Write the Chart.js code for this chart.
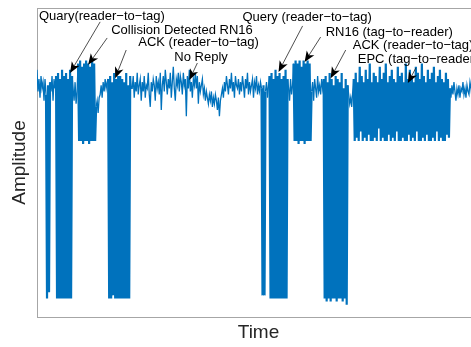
<!DOCTYPE html>
<html>
<head>
<meta charset="utf-8">
<script src="https://cdn.jsdelivr.net/npm/chart.js@4"></script>
<style>
  html, body { margin: 0; padding: 0; overflow: hidden; background: #fff; }
  #wrap { width: 480px; height: 347px; }
</style>
</head>
<body>
<div id="wrap"><canvas id="signalChart"></canvas></div>
<script>
// Amplitude trace, one sample per time step
const leadNoise = [80, 73, 77, 71, 78, 74, 76, 70, 77];
const queryPilot = [72, 6, 75, 8, 76];
const gapA = [73, 78, 70, 77, 74];
const queryBurst = [78, 6, 79, 6, 77, 6, 80, 6, 78, 6, 79, 6, 77, 6, 80, 6, 78];
const gapB = [74, 70, 76, 69, 73];
const collisionRn16 = [82, 57, 83, 57, 81, 56, 82, 57, 83, 57, 82, 56, 81, 57, 83, 57, 82, 57];
const gapC = [68, 70, 66, 71, 72, 75, 71, 76, 73, 77, 74, 76];
const ackBurst = [77, 6, 78, 6, 76, 7, 79, 6, 77, 6, 78, 6, 78, 6, 77, 6, 76, 6, 79, 6, 75, 6, 78, 74];
const noReply = [
  74, 78, 71, 76, 73, 79, 72, 75, 77, 70,
  76, 73, 78, 71, 75, 74, 79, 72, 68, 76,
  73, 77, 75, 70, 78, 74, 76, 72, 79, 67,
  75, 78, 73, 80, 76, 72, 77, 74, 79, 71,
  76, 81, 74, 70, 77, 75, 79, 73, 78, 76,
  72, 79, 75, 77, 65, 78, 74, 80, 73, 76,
  71, 77, 75, 79, 74, 78, 69, 76, 73, 75,
  77, 72, 74, 70, 73, 71, 69, 72, 70, 73,
  68, 71, 69, 72, 70, 67, 71, 65, 70, 72,
  74, 71, 76, 73, 78, 75, 72, 77, 74, 79,
  73, 76, 71, 78, 75, 74, 77, 72, 76, 73,
  78, 75, 71, 77, 74, 79, 72, 76, 73, 75,
  77, 71, 76, 74, 78, 72, 75, 73, 76
];
const queryPilot2 = [74, 7, 75, 7, 73];
const gapD = [76, 71, 75];
const queryBurst2 = [78, 6, 79, 6, 77, 6, 80, 6, 78, 6, 79, 6, 77, 6, 78, 6, 80, 6, 77];
const gapE = [74, 70, 77, 72, 75];
const tagRn16 = [82, 57, 83, 57, 82, 56, 83, 57, 81, 57, 83, 56, 82, 57, 83, 57, 82, 57];
const gapF = [73, 76, 70, 77, 74, 71, 78, 73, 75, 72, 77, 74];
const ackBurst2 = [77, 6, 78, 5, 76, 6, 79, 5, 77, 6, 75, 6, 78, 5, 77, 6, 76, 6, 79, 5, 74, 6, 77, 4, 75];
const gapG = [72, 69, 71, 68, 73];
const epcBurst = [
  77, 57, 79, 58, 76, 57, 81, 60, 78, 57, 76, 58, 80, 57, 77, 59,
  82, 57, 76, 57, 79, 58, 78, 57, 76, 61, 81, 57, 77, 58, 79, 57,
  82, 57, 76, 59, 78, 57, 80, 58, 77, 57, 76, 60, 81, 57, 78, 57,
  79, 58, 76, 57, 82, 57, 77, 59, 80, 57, 78, 58, 76, 57, 81, 60,
  79, 57, 77, 57, 82, 58, 78, 57, 76, 59, 80, 57, 77, 57, 79, 58,
  81, 57, 76, 60, 78, 57, 80, 58, 77, 57, 76, 57, 79, 59, 77, 58
];
const tailNoise = [74, 71, 75, 72, 76, 73, 70, 74, 72, 75, 71, 74, 73, 76, 72, 74, 71, 75, 73, 72, 76, 74, 71, 75, 73, 74, 72, 75, 73, 74, 72];

const amplitude = [].concat(
  leadNoise, queryPilot, gapA, queryBurst, gapB, collisionRn16, gapC, ackBurst,
  noReply, queryPilot2, gapD, queryBurst2, gapE, tagRn16, gapF, ackBurst2, gapG,
  epcBurst, tailNoise
);
const time = amplitude.map((_, i) => i);

// Annotation labels: text anchor, arrow tail and arrow tip, in time / amplitude units
const notes = [
  { text: "Quary(reader\u2212to\u2212tag)", at: [2, 97.4], from: [63, 95.5], to: [33, 79] },
  { text: "Collision Detected RN16", at: [74, 92.6], from: [70, 90.3], to: [51, 81.6] },
  { text: "ACK (reader\u2212to\u2212tag)", at: [101, 88.7], from: [89, 86.4], to: [78, 77.3] },
  { text: "No Reply", at: [137, 84.1], from: [160, 82.2], to: [152, 76.7] },
  { text: "Query (reader\u2212to\u2212tag)", at: [205, 97.1], from: [265, 94.2], to: [241, 79.3] },
  { text: "RN16 (tag\u2212to\u2212reader)", at: [288, 92.2], from: [283, 90.6], to: [267, 82.5] },
  { text: "ACK (reader\u2212to\u2212tag)", at: [315, 88.0], from: [308, 86.4], to: [293, 77.3] },
  { text: "EPC (tag\u2212to\u2212reader)", at: [320, 83.2], from: [378, 80.6], to: [370, 75.7] }
];

const FONT = "'Liberation Sans', Arial, Helvetica, sans-serif";
Chart.defaults.font.family = FONT;

const framePlugin = {
  id: "frame",
  afterDraw(chart) {
    const { ctx, chartArea } = chart;
    ctx.save();
    ctx.strokeStyle = "#a6a6a6";
    ctx.lineWidth = 1;
    ctx.beginPath();
    ctx.moveTo(chartArea.left, Math.round(chartArea.top) + 0.5);
    ctx.lineTo(chartArea.right, Math.round(chartArea.top) + 0.5);
    ctx.stroke();
    ctx.restore();
  }
};

const notesPlugin = {
  id: "notes",
  afterDatasetsDraw(chart) {
    const { ctx, scales } = chart;
    const px = p => [scales.x.getPixelForValue(p[0]), scales.y.getPixelForValue(p[1])];
    ctx.save();
    ctx.font = "13px " + FONT;
    ctx.textAlign = "left";
    ctx.textBaseline = "middle";
    notes.forEach(n => {
      const [tx, ty] = px(n.at);
      ctx.fillStyle = "#000";
      ctx.fillText(n.text, tx, ty);
      const [x0, y0] = px(n.from);
      const [x1, y1] = px(n.to);
      const ang = Math.atan2(y1 - y0, x1 - x0);
      const len = 11, half = 4.5, notch = 3;
      ctx.strokeStyle = "#222";
      ctx.lineWidth = 0.8;
      ctx.beginPath();
      ctx.moveTo(x0, y0);
      ctx.lineTo(x1 - Math.cos(ang) * (len - notch), y1 - Math.sin(ang) * (len - notch));
      ctx.stroke();
      ctx.save();
      ctx.translate(x1, y1);
      ctx.rotate(ang);
      ctx.fillStyle = "#000";
      ctx.beginPath();
      ctx.moveTo(0, 0);
      ctx.lineTo(-len, -half);
      ctx.lineTo(-len + notch, 0);
      ctx.lineTo(-len, half);
      ctx.closePath();
      ctx.fill();
      ctx.restore();
    });
    ctx.restore();
  }
};

new Chart(document.getElementById("signalChart"), {
  type: "line",
  data: {
    datasets: [{
      label: "Amplitude",
      data: time.map((t, i) => ({ x: t, y: amplitude[i] })),
      borderColor: "#0072bd",
      borderWidth: 1.3,
      pointRadius: 0,
      tension: 0,
      fill: false,
      segment: {
        // burst strokes are packed so tightly that they read as a filled block
        borderWidth: c => (c.p0.parsed.y < 62 || c.p1.parsed.y < 62) ? 2.2 : 1.3
      }
    }]
  },
  options: {
    responsive: true,
    maintainAspectRatio: false,
    animation: false,
    events: [],
    layout: { padding: { top: 8, left: 0, right: 0, bottom: 0 } },
    plugins: {
      legend: { display: false },
      tooltip: { enabled: false }
    },
    scales: {
      x: {
        type: "linear",
        min: 0,
        max: time.length - 1,
        grid: { display: false, drawTicks: false },
        ticks: { display: false },
        border: { display: true, color: "#a6a6a6", width: 1 },
        title: {
          display: true,
          text: "Time",
          color: "#262626",
          font: { size: 19 },
          padding: { top: 4.6, bottom: 2.6 }
        }
      },
      y: {
        min: 0,
        max: 100,
        grid: { display: false, drawTicks: false },
        ticks: { display: false },
        border: { display: true, color: "#a6a6a6", width: 1 },
        title: {
          display: true,
          text: "Amplitude",
          color: "#262626",
          font: { size: 19 },
          padding: { top: 8.6, bottom: 5.6 }
        }
      }
    }
  },
  plugins: [framePlugin, notesPlugin]
});
</script>
</body>
</html>
